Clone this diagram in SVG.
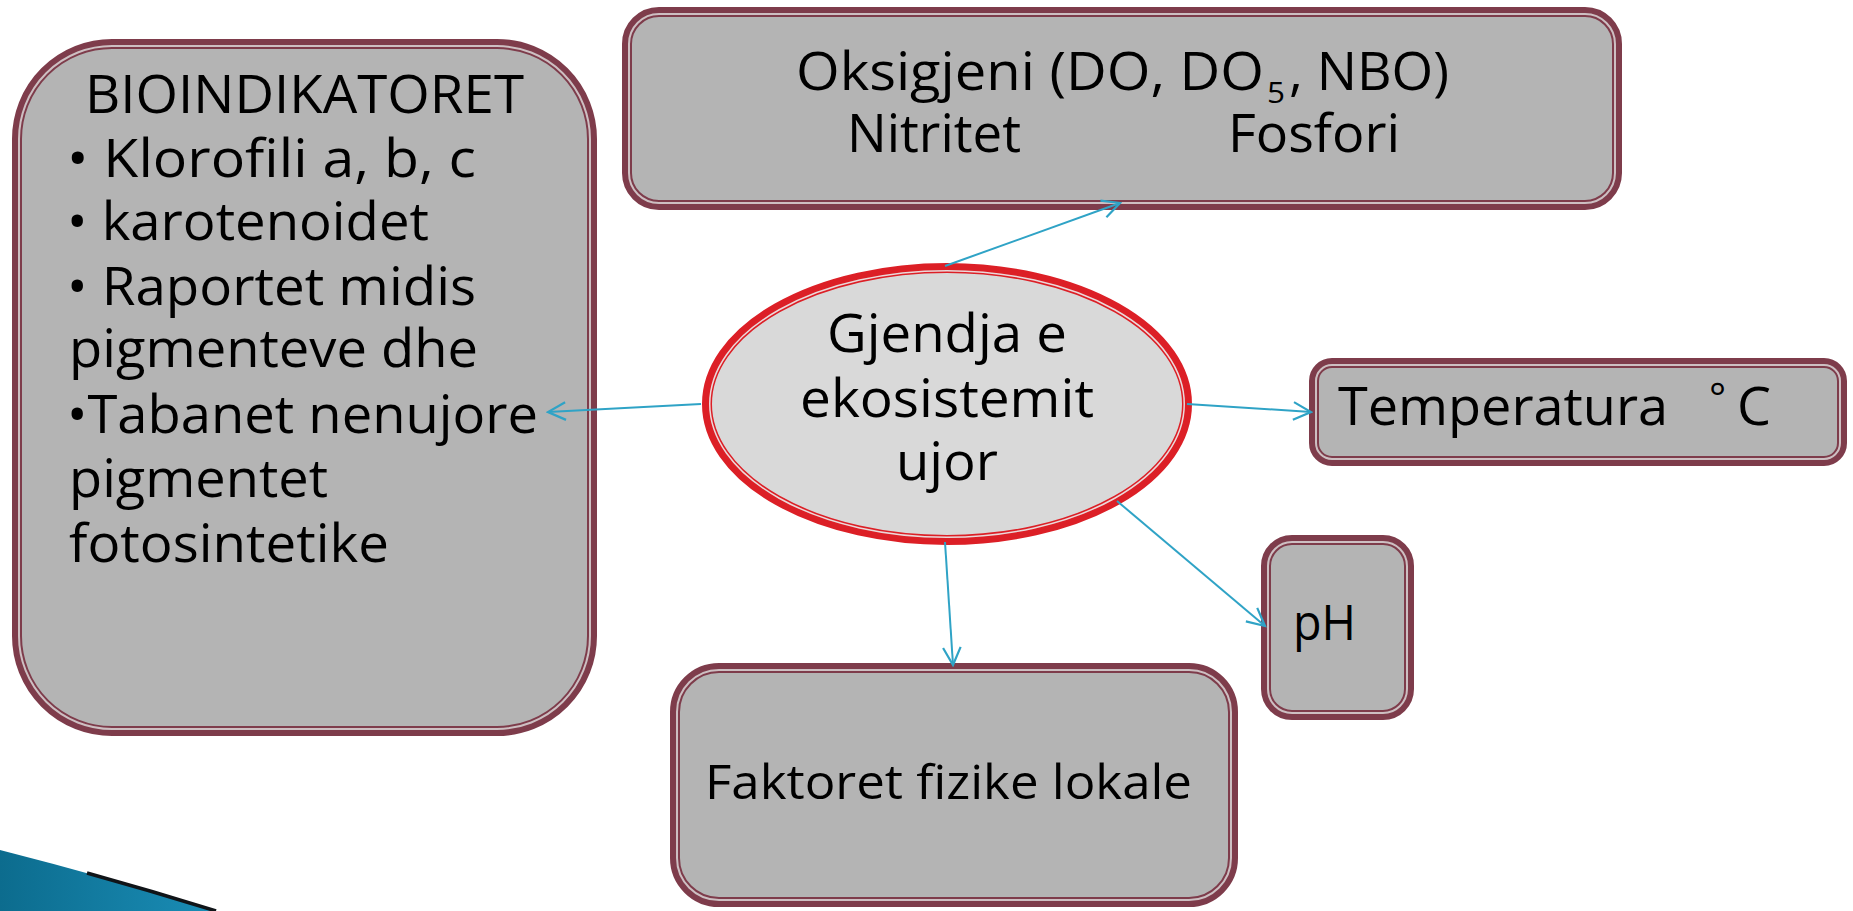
<svg xmlns="http://www.w3.org/2000/svg" width="1853" height="911" viewBox="0 0 1853 911">
<style>
.box{fill:#B4B4B4;stroke:#7E3C4B;stroke-width:10}
.inner{fill:none;stroke:#CDBFC2;stroke-width:2}
.ell{fill:#D9D9D9;stroke:#DC1F26;stroke-width:10}
.ellin{fill:none;stroke:#EBD9DA;stroke-width:1.5}
.t{font-family:"Open Sans","Liberation Sans",sans-serif;font-size:53px;fill:#000}
.conn{stroke:#2FA3C6;stroke-width:2;fill:none}
</style>
<defs>
<marker id="arr" markerUnits="userSpaceOnUse" markerWidth="22" markerHeight="22" viewBox="0 0 20 20" refX="18" refY="10" orient="auto">
<path d="M2,2 L18,10 L2,18" fill="none" stroke="#2FA3C6" stroke-width="2"/>
</marker>
<linearGradient id="swoosh" x1="0" y1="0" x2="1" y2="0">
<stop offset="0" stop-color="#0C6C8E"/>
<stop offset="1" stop-color="#1A8DB6"/>
</linearGradient>
</defs>
<rect width="1853" height="911" fill="#FFFFFF"/>

<path d="M0,850 Q110,878 216,911 L0,911 Z" fill="url(#swoosh)"/>
<path d="M87,873 Q152,891 216,911" fill="none" stroke="#101418" stroke-width="3.5"/>

<g id="node-bioindikatoret">
<rect class="box" x="17" y="44" width="575" height="687" rx="95"/>
<rect class="inner" x="19" y="46" width="571" height="683" rx="93"/>
<text class="t" x="85" y="113" textLength="439" lengthAdjust="spacingAndGlyphs">BIOINDIKATORET</text>
<text class="t" x="67" y="177" textLength="409" lengthAdjust="spacingAndGlyphs">• Klorofili a, b, c</text>
<text class="t" x="67" y="240" textLength="362" lengthAdjust="spacingAndGlyphs">• karotenoidet</text>
<text class="t" x="67" y="305" textLength="409" lengthAdjust="spacingAndGlyphs">• Raportet midis</text>
<text class="t" x="69" y="367" textLength="409" lengthAdjust="spacingAndGlyphs">pigmenteve dhe</text>
<text class="t" x="67" y="433" textLength="471" lengthAdjust="spacingAndGlyphs">•Tabanet nenujore</text>
<text class="t" x="69" y="497" textLength="259" lengthAdjust="spacingAndGlyphs">pigmentet</text>
<text class="t" x="69" y="562" textLength="320" lengthAdjust="spacingAndGlyphs">fotosintetike</text>
</g>

<g id="node-oksigjeni">
<rect class="box" x="627" y="12" width="990" height="193" rx="32"/>
<rect class="inner" x="629" y="14" width="986" height="189" rx="30"/>
<text class="t" x="796" y="90" textLength="468" lengthAdjust="spacingAndGlyphs">Oksigjeni (DO, DO</text>
<text class="t" x="1267" y="103" style="font-size:30px" textLength="18" lengthAdjust="spacingAndGlyphs">5</text>
<text class="t" x="1289" y="90" textLength="160" lengthAdjust="spacingAndGlyphs">, NBO)</text>
<text class="t" x="847" y="152" textLength="174" lengthAdjust="spacingAndGlyphs">Nitritet</text>
<text class="t" x="1228" y="152" textLength="172" lengthAdjust="spacingAndGlyphs">Fosfori</text>
</g>

<g id="node-temperatura">
<rect class="box" x="1314" y="363" width="528" height="98" rx="18"/>
<rect class="inner" x="1316" y="365" width="524" height="94" rx="16"/>
<text class="t" x="1338" y="425" textLength="330" lengthAdjust="spacingAndGlyphs">Temperatura</text>
<text class="t" x="1709" y="412" style="font-size:40px">°</text>
<text class="t" x="1737" y="425" textLength="34" lengthAdjust="spacingAndGlyphs">C</text>
</g>

<g id="node-ph">
<rect class="box" x="1266" y="540" width="143" height="175" rx="26"/>
<rect class="inner" x="1268" y="542" width="139" height="171" rx="24"/>
<text class="t" x="1293" y="640" style="font-size:49px" textLength="63" lengthAdjust="spacingAndGlyphs">pH</text>
</g>

<g id="node-faktoret">
<rect class="box" x="675" y="668" width="558" height="234" rx="44"/>
<rect class="inner" x="677" y="670" width="554" height="230" rx="42"/>
<text class="t" x="705" y="799" style="font-size:48px" textLength="487" lengthAdjust="spacingAndGlyphs">Faktoret fizike lokale</text>
</g>

<g id="node-gjendja">
<ellipse class="ell" cx="947" cy="404" rx="240" ry="136"/>
<ellipse class="ellin" cx="947" cy="404" rx="237.25" ry="133.25"/>
<text class="t" x="947" y="352" text-anchor="middle" textLength="240" lengthAdjust="spacingAndGlyphs">Gjendja e</text>
<text class="t" x="947" y="417" text-anchor="middle" textLength="294" lengthAdjust="spacingAndGlyphs">ekosistemit</text>
<text class="t" x="947" y="480" text-anchor="middle" textLength="102" lengthAdjust="spacingAndGlyphs">ujor</text>
</g>

<g id="connectors">
<line class="conn" x1="945" y1="266" x2="1120" y2="203" marker-end="url(#arr)"/>
<line class="conn" x1="701" y1="404" x2="548" y2="412" marker-end="url(#arr)"/>
<line class="conn" x1="1187" y1="404" x2="1311" y2="412" marker-end="url(#arr)"/>
<line class="conn" x1="1117" y1="501" x2="1265" y2="626" marker-end="url(#arr)"/>
<line class="conn" x1="945" y1="542" x2="953" y2="665" marker-end="url(#arr)"/>
</g>
</svg>
